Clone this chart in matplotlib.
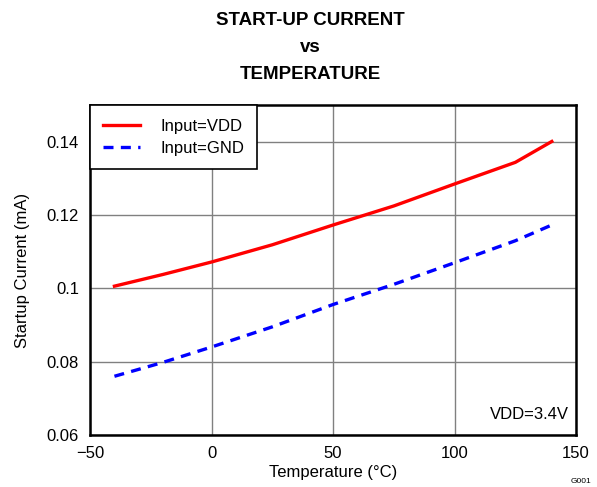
import matplotlib
matplotlib.use("Agg")
import matplotlib.pyplot as plt

plt.rcParams['font.family'] = ['Liberation Sans', 'DejaVu Sans']

# data
temp = [-40, -20, 0, 25, 50, 75, 100, 125, 140]
i_vdd = [0.1006, 0.1038, 0.1072, 0.1119, 0.1173, 0.1225, 0.1285, 0.1344, 0.1401]
i_gnd = [0.0760, 0.0798, 0.0840, 0.0895, 0.0956, 0.1011, 0.1070, 0.1130, 0.1173]

xticks = [-50, 0, 50, 100, 150]
yticks = [0.06, 0.08, 0.1, 0.12, 0.14]
ytick_labels = ["0.06", "0.08", "0.1", "0.12", "0.14"]

fig = plt.figure(figsize=(5.97, 4.87), dpi=100)
ax = fig.add_axes([0.151, 0.107, 0.814, 0.677])

ax.plot(temp, i_vdd, color="#ff0000", lw=2.4, label="Input=VDD")
ax.plot(temp, i_gnd, color="#0000ff", lw=2.4, ls=(0, (3, 2.2)), label="Input=GND")

ax.set_xlim(-50, 150)
ax.set_ylim(0.06, 0.15)
ax.set_xticks(xticks)
ax.set_yticks(yticks)
ax.set_yticklabels(ytick_labels)
ax.tick_params(labelsize=12, length=0, pad=8)
ax.grid(True, color="#808080", lw=1)
for s in ax.spines.values():
    s.set_linewidth(1.8)

ax.set_xlabel("Temperature (°C)", fontsize=12, labelpad=3)
ax.set_ylabel("Startup Current (mA)", fontsize=12, labelpad=12)

leg = ax.legend(loc="upper left", fontsize=12, frameon=True, fancybox=False,
                borderaxespad=0, handlelength=2.2, handletextpad=1.2,
                borderpad=0.8, labelspacing=0.45)
leg.get_frame().set_edgecolor("black")
leg.get_frame().set_linewidth(1.2)
leg.get_frame().set_alpha(1)

ax.text(0.985, 0.04, "VDD=3.4V", transform=ax.transAxes, ha="right",
        va="bottom", fontsize=12)

fig.text(0.52, 0.975, "START-UP CURRENT\nvs\nTEMPERATURE", ha="center",
         va="top", fontsize=13.5, fontweight="bold", linespacing=1.75)
fig.text(0.99, 0.005, "G001", ha="right", va="bottom", fontsize=6)

fig.savefig("out.png", dpi=100)
